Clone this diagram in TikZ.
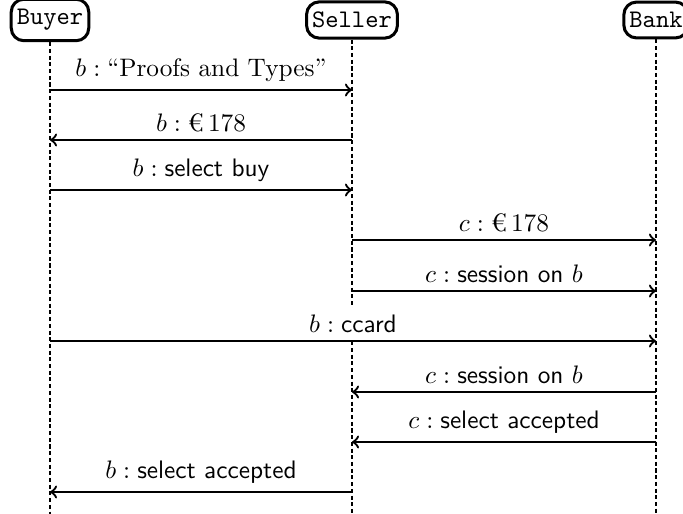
\documentclass[tikz,border=0pt]{standalone}
\usetikzlibrary{calc}
\tikzset{
  actor/.style={draw, line width=1.2pt, rounded corners=5pt, font=\ttfamily, inner xsep=2.2pt, inner ysep=4pt},
  life/.style={line width=0.9pt, dash pattern=on 1.6pt off 1.05pt},
  msg/.style={line width=0.9pt, ->},
  lbl/.style={above, fill=white, inner sep=2.8pt}
}
\begin{document}
\begin{tikzpicture}[x=0.3953pt, y=-0.3953pt]
\useasboundingbox (0,0) rectangle (683,514);
\begin{scope}
\clip (0,0) rectangle (683,514);
\node[actor] (buyer) at (50,20) {Buyer};
\node[actor] (seller) at (352,20) {Seller};
\node[actor] (bank) at (656,20) {Bank};
\coordinate (buyerEnd) at (50,514);
\coordinate (sellerEnd) at (352,514);
\coordinate (bankEnd) at (656,514);
\draw[life] (buyer.south) -- (buyerEnd);
\draw[life] (seller.south) -- (sellerEnd);
\draw[life] (bank.south) -- (bankEnd);

\draw[msg] (buyer |- 0,90) -- node[lbl] {$b:{}$``Proofs and Types''} (seller |- 0,90);
\draw[msg] (seller |- 0,140) -- node[lbl] {$b:{}$€\,$178$} (buyer |- 0,140);
\draw[msg] (buyer |- 0,190) -- node[lbl] {$b:\textsf{select buy}$} (seller |- 0,190);
\draw[msg] (seller |- 0,240) -- node[lbl] {$c:{}$€\,$178$} (bank |- 0,240);
\draw[msg] (seller |- 0,291) -- node[lbl] {$c:\textsf{session on }b$} (bank |- 0,291);
\draw[msg] (buyer |- 0,341) -- node[lbl] {$b:\textsf{ccard}$} (bank |- 0,341);
\draw[msg] (bank |- 0,392) -- node[lbl] {$c:\textsf{session on }b$} (seller |- 0,392);
\draw[msg] (bank |- 0,442) -- node[lbl] {$c:\textsf{select accepted}$} (seller |- 0,442);
\draw[msg] (seller |- 0,492) -- node[lbl] {$b:\textsf{select accepted}$} (buyer |- 0,492);
\end{scope}
\end{tikzpicture}
\end{document}
